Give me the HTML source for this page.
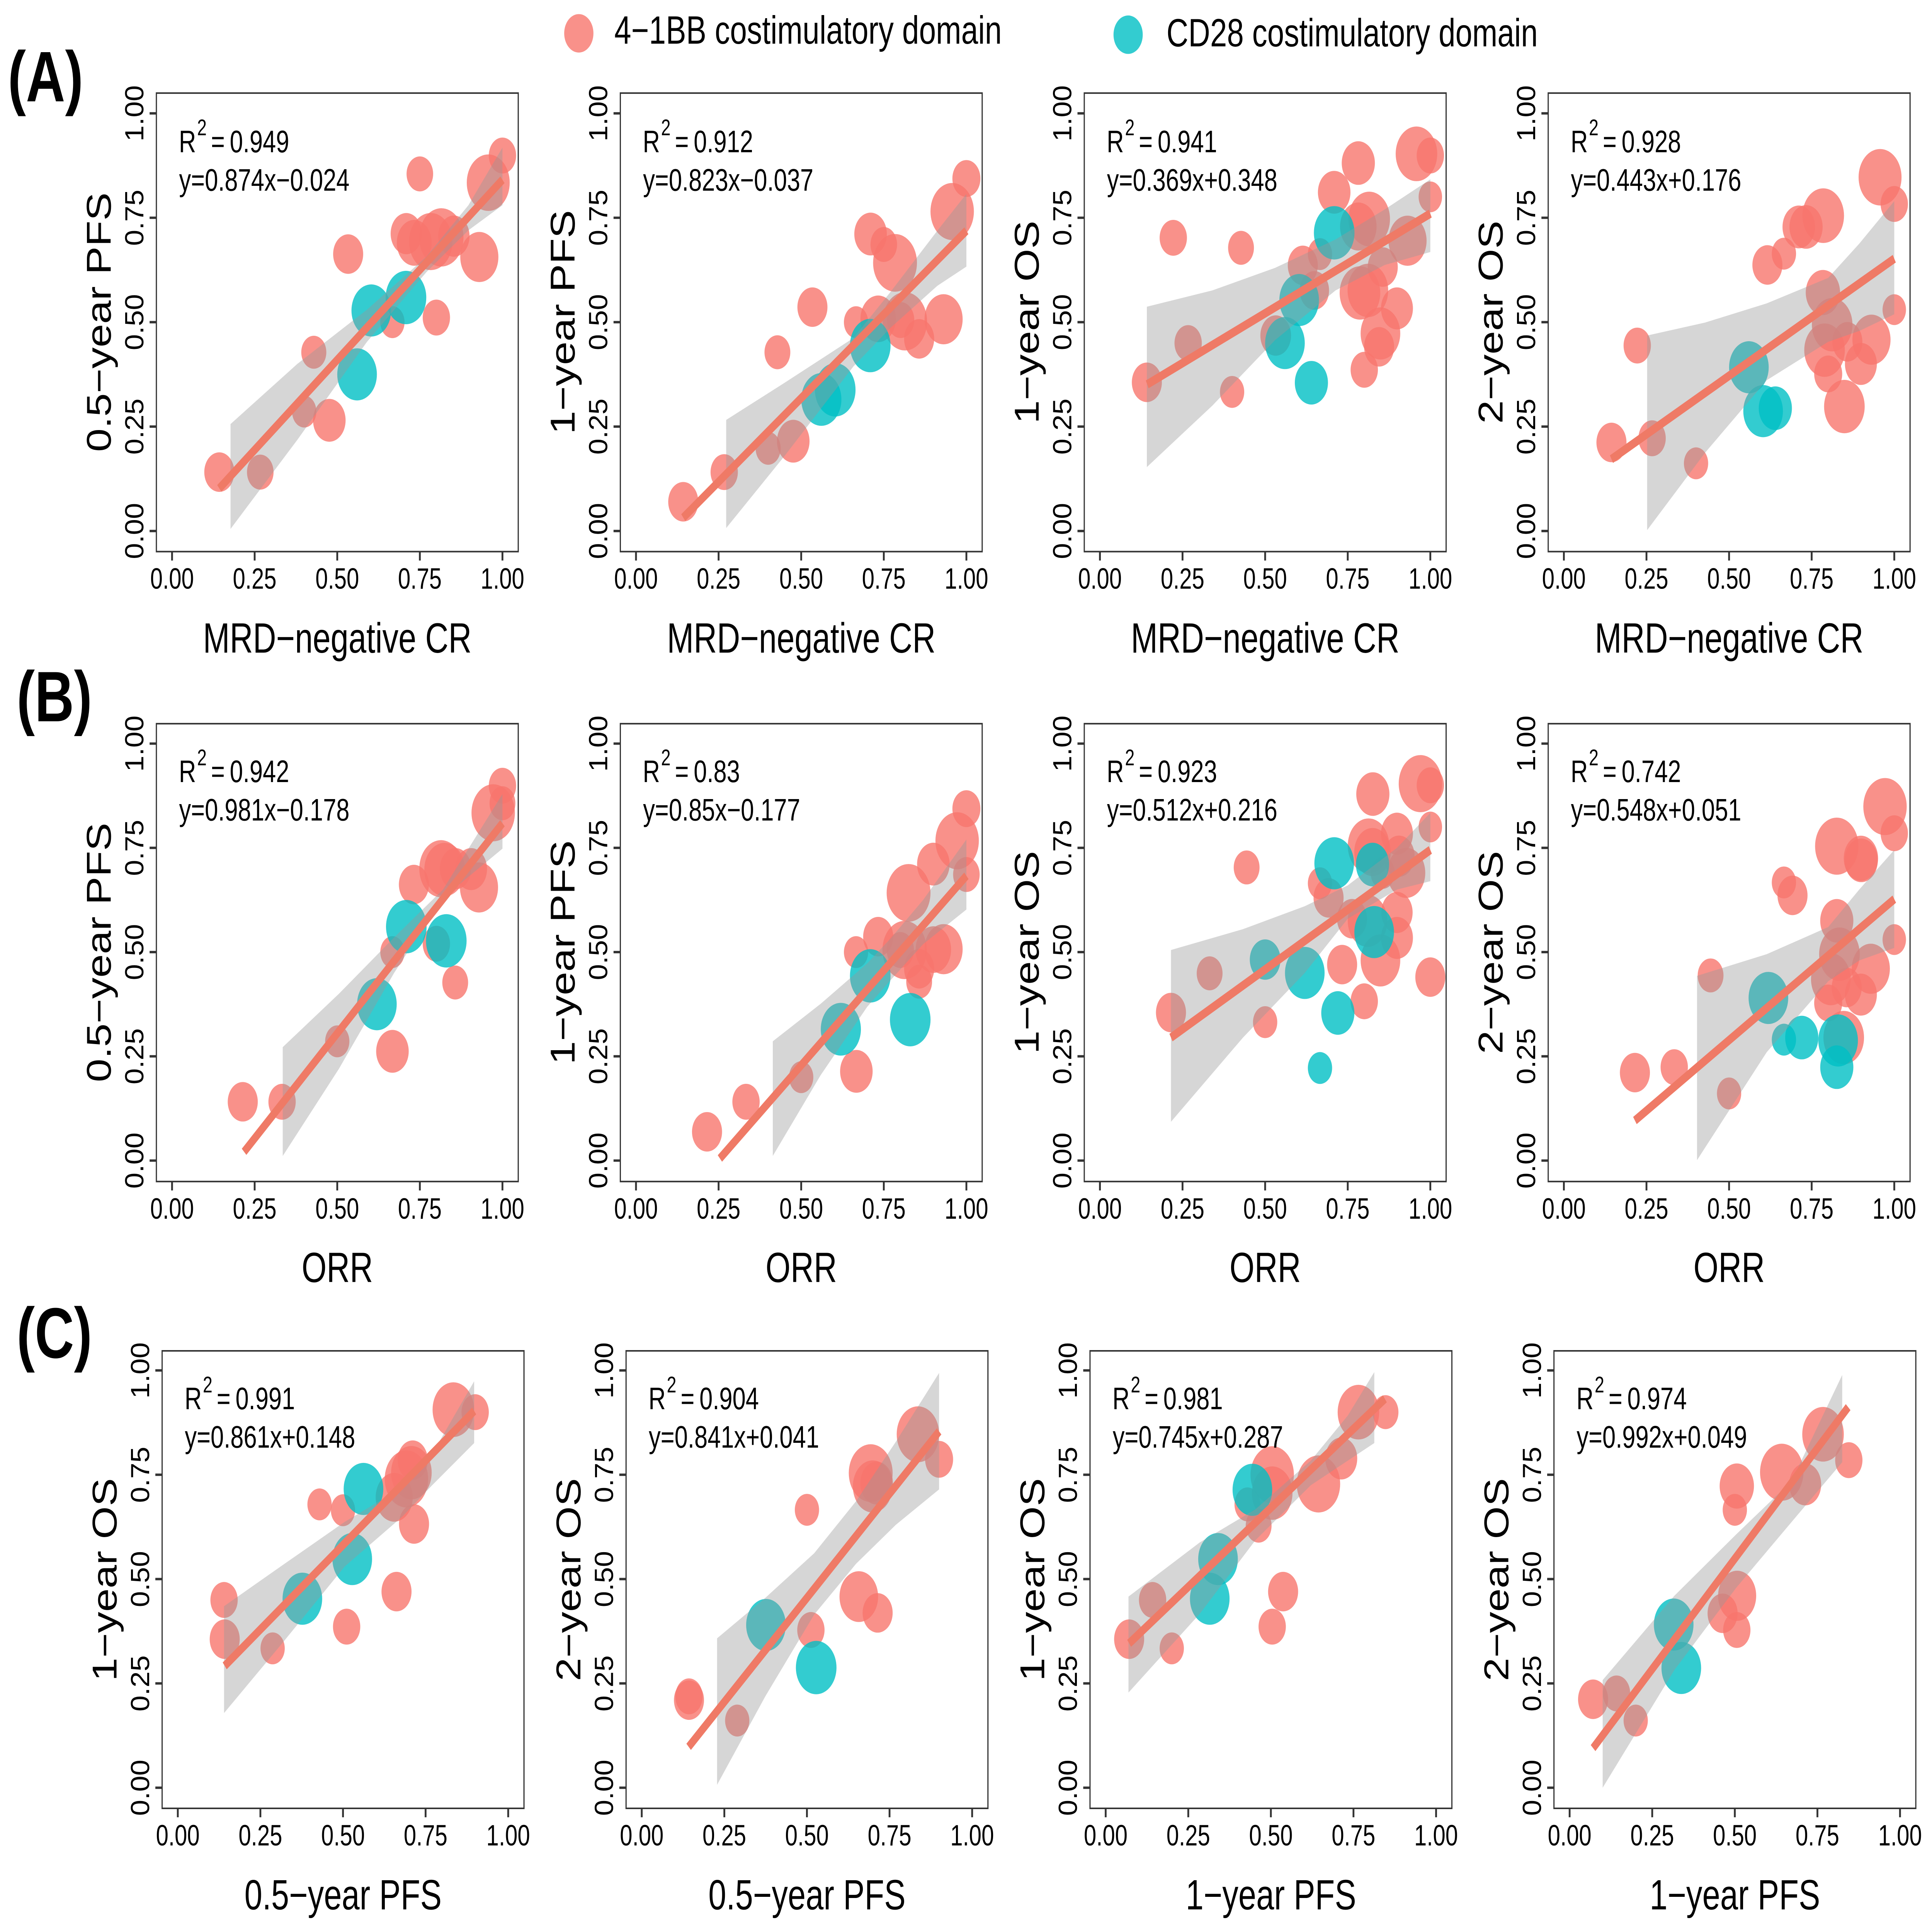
<!DOCTYPE html>
<html lang="en">
<head>
<meta charset="utf-8">
<title>Correlation of response and survival endpoints by costimulatory domain</title>
<style>
html,body{margin:0;padding:0;background:#fff;width:100%;height:100%;overflow:hidden;}
svg{display:block;width:100vw;height:100vh;font-family:"Liberation Sans",Arial,sans-serif;}
.frame{fill:none;stroke:#333;stroke-width:4.5;}
.axt{font-size:123px;fill:#000;text-anchor:middle;}
.ann{font-size:91px;fill:#000;}
.sup{font-size:66px;fill:#000;}
.tag{font-size:208px;font-weight:bold;fill:#000;}
.leg{font-size:115px;fill:#000;}
</style>
</head>
<body>
<svg id="figure" xmlns="http://www.w3.org/2000/svg" viewBox="0 0 7400 5625" preserveAspectRatio="none">
<rect width="7400" height="5625" fill="#fff"/>
<g>
<circle cx="2217" cy="97" r="56" fill="#F8766D" fill-opacity="0.8"/>
<text class="leg" x="2353" y="127" textLength="1484" lengthAdjust="spacingAndGlyphs">4−1BB costimulatory domain</text>
<circle cx="4321" cy="101" r="56" fill="#00BFC4" fill-opacity="0.8"/>
<text class="leg" x="4468" y="135" textLength="1422" lengthAdjust="spacingAndGlyphs">CD28 costimulatory domain</text>
</g>
<text class="tag" x="30" y="295">(A)</text>
<text class="tag" x="64" y="2100">(B)</text>
<text class="tag" x="64" y="3953">(C)</text>

<g id="a1" transform="translate(599,271)">
<rect class="frame" width="1386" height="1335"/><g class="marks"></g>
<text class="ann" y="172"><tspan x="86">R</tspan><tspan class="sup" x="156" y="123">2</tspan><tspan x="209" y="172">=</tspan><tspan x="281">0.949</tspan></text>
<text class="ann" x="87" y="284">y=0.874x−0.024</text>
<text class="axt" x="693" y="1629">MRD−negative CR</text>
<text class="axt" transform="translate(-175,667) rotate(-90) scale(1,1.07)">0.5−year PFS</text>
</g>
<g id="a2" transform="translate(2376,271)">
<rect class="frame" width="1386" height="1335"/><g class="marks"></g>
<text class="ann" y="172"><tspan x="86">R</tspan><tspan class="sup" x="156" y="123">2</tspan><tspan x="209" y="172">=</tspan><tspan x="281">0.912</tspan></text>
<text class="ann" x="87" y="284">y=0.823x−0.037</text>
<text class="axt" x="693" y="1629">MRD−negative CR</text>
<text class="axt" transform="translate(-175,667) rotate(-90) scale(1,1.07)">1−year PFS</text>
</g>
<g id="a3" transform="translate(4153,271)">
<rect class="frame" width="1386" height="1335"/><g class="marks"></g>
<text class="ann" y="172"><tspan x="86">R</tspan><tspan class="sup" x="156" y="123">2</tspan><tspan x="209" y="172">=</tspan><tspan x="281">0.941</tspan></text>
<text class="ann" x="87" y="284">y=0.369x+0.348</text>
<text class="axt" x="693" y="1629">MRD−negative CR</text>
<text class="axt" transform="translate(-175,667) rotate(-90) scale(1,1.07)">1−year OS</text>
</g>
<g id="a4" transform="translate(5930,271)">
<rect class="frame" width="1386" height="1335"/><g class="marks"></g>
<text class="ann" y="172"><tspan x="86">R</tspan><tspan class="sup" x="156" y="123">2</tspan><tspan x="209" y="172">=</tspan><tspan x="281">0.928</tspan></text>
<text class="ann" x="87" y="284">y=0.443x+0.176</text>
<text class="axt" x="693" y="1629">MRD−negative CR</text>
<text class="axt" transform="translate(-175,667) rotate(-90) scale(1,1.07)">2−year OS</text>
</g>

<g id="b1" transform="translate(599,2107)">
<rect class="frame" width="1386" height="1333"/><g class="marks"></g>
<text class="ann" y="170"><tspan x="86">R</tspan><tspan class="sup" x="156" y="121">2</tspan><tspan x="209" y="170">=</tspan><tspan x="281">0.942</tspan></text>
<text class="ann" x="87" y="282">y=0.981x−0.178</text>
<text class="axt" x="693" y="1626">ORR</text>
<text class="axt" transform="translate(-175,666) rotate(-90) scale(1,1.07)">0.5−year PFS</text>
</g>
<g id="b2" transform="translate(2376,2107)">
<rect class="frame" width="1386" height="1333"/><g class="marks"></g>
<text class="ann" y="170"><tspan x="86">R</tspan><tspan class="sup" x="156" y="121">2</tspan><tspan x="209" y="170">=</tspan><tspan x="281">0.83</tspan></text>
<text class="ann" x="87" y="282">y=0.85x−0.177</text>
<text class="axt" x="693" y="1626">ORR</text>
<text class="axt" transform="translate(-175,666) rotate(-90) scale(1,1.07)">1−year PFS</text>
</g>
<g id="b3" transform="translate(4153,2107)">
<rect class="frame" width="1386" height="1333"/><g class="marks"></g>
<text class="ann" y="170"><tspan x="86">R</tspan><tspan class="sup" x="156" y="121">2</tspan><tspan x="209" y="170">=</tspan><tspan x="281">0.923</tspan></text>
<text class="ann" x="87" y="282">y=0.512x+0.216</text>
<text class="axt" x="693" y="1626">ORR</text>
<text class="axt" transform="translate(-175,666) rotate(-90) scale(1,1.07)">1−year OS</text>
</g>
<g id="b4" transform="translate(5930,2107)">
<rect class="frame" width="1386" height="1333"/><g class="marks"></g>
<text class="ann" y="170"><tspan x="86">R</tspan><tspan class="sup" x="156" y="121">2</tspan><tspan x="209" y="170">=</tspan><tspan x="281">0.742</tspan></text>
<text class="ann" x="87" y="282">y=0.548x+0.051</text>
<text class="axt" x="693" y="1626">ORR</text>
<text class="axt" transform="translate(-175,666) rotate(-90) scale(1,1.07)">2−year OS</text>
</g>

<g id="c1" transform="translate(621,3933)">
<rect class="frame" width="1386" height="1332"/><g class="marks"></g>
<text class="ann" y="170"><tspan x="86">R</tspan><tspan class="sup" x="156" y="121">2</tspan><tspan x="209" y="170">=</tspan><tspan x="281">0.991</tspan></text>
<text class="ann" x="87" y="282">y=0.861x+0.148</text>
<text class="axt" x="693" y="1626">0.5−year PFS</text>
<text class="axt" transform="translate(-175,666) rotate(-90) scale(1,1.07)">1−year OS</text>
</g>
<g id="c2" transform="translate(2398,3933)">
<rect class="frame" width="1386" height="1332"/><g class="marks"></g>
<text class="ann" y="170"><tspan x="86">R</tspan><tspan class="sup" x="156" y="121">2</tspan><tspan x="209" y="170">=</tspan><tspan x="281">0.904</tspan></text>
<text class="ann" x="87" y="282">y=0.841x+0.041</text>
<text class="axt" x="693" y="1626">0.5−year PFS</text>
<text class="axt" transform="translate(-175,666) rotate(-90) scale(1,1.07)">2−year OS</text>
</g>
<g id="c3" transform="translate(4175,3933)">
<rect class="frame" width="1386" height="1332"/><g class="marks"></g>
<text class="ann" y="170"><tspan x="86">R</tspan><tspan class="sup" x="156" y="121">2</tspan><tspan x="209" y="170">=</tspan><tspan x="281">0.981</tspan></text>
<text class="ann" x="87" y="282">y=0.745x+0.287</text>
<text class="axt" x="693" y="1626">1−year PFS</text>
<text class="axt" transform="translate(-175,666) rotate(-90) scale(1,1.07)">1−year OS</text>
</g>
<g id="c4" transform="translate(5952,3933)">
<rect class="frame" width="1386" height="1332"/><g class="marks"></g>
<text class="ann" y="170"><tspan x="86">R</tspan><tspan class="sup" x="156" y="121">2</tspan><tspan x="209" y="170">=</tspan><tspan x="281">0.974</tspan></text>
<text class="ann" x="87" y="282">y=0.992x+0.049</text>
<text class="axt" x="693" y="1626">1−year PFS</text>
<text class="axt" transform="translate(-175,666) rotate(-90) scale(1,1.07)">2−year OS</text>
</g>
</svg>
<script>
// Shared tick values
const tickValues = [0, 0.25, 0.5, 0.75, 1];
const tickLabels = ['0.00', '0.25', '0.50', '0.75', '1.00'];

// Panel a1: 0.5-year PFS vs MRD-negative CR
const a1RedX = [.143,.267,.40,.476,.429,.533,.667,.709,.733,.75,.783,.815,.80,.853,.93,.957,1];
const a1RedY = [.141,.141,.286,.265,.428,.663,.50,.712,.69,.855,.693,.703,.511,.706,.656,.834,.899];
const a1RedN = [23,18,15,27,16,23,15,25,31,18,48,50,19,25,37,47,19];
const a1CdX = [.603,.708,.56];
const a1CdY = [.528,.559,.375];
const a1CdN = [40,42,40];
const a1LineX = [.143,1];
const a1LineY = [.102,.841];
const a1BandX = [.177,.379,.59,.77,.897,1];
const a1BandLo = [.005,.218,.453,.62,.72,.78];
const a1BandHi = [.256,.40,.53,.657,.78,.918];

// Panel a2: 1-year PFS vs MRD-negative CR
const a2RedX = [.143,.267,.40,.428,.476,.534,.666,.71,.733,.75,.784,.801,.814,.857,.931,.957,1];
const a2RedY = [.07,.141,.198,.428,.215,.536,.50,.711,.508,.686,.642,.505,.502,.46,.507,.765,.844];
const a2RedN = [23,19,16,17,27,23,15,27,32,18,49,19,50,23,37,48,20];
const a2CdX = [.561,.603,.709];
const a2CdY = [.315,.338,.444];
const a2CdN = [41,42,42];
const a2LineX = [.143,1];
const a2LineY = [.032,.719];
const a2BandX = [.273,.45,.658,.771,.912,1];
const a2BandLo = [.007,.18,.394,.487,.587,.633];
const a2BandHi = [.266,.355,.462,.573,.719,.807];

// Panel a3: 1-year OS vs MRD-negative CR
const a3RedX = [.142,.222,.267,.40,.427,.532,.614,.649,.666,.709,.782,.782,.815,.787,.811,.80,.856,.849,.845,.899,.931,.958,1,1];
const a3RedY = [.356,.702,.45,.333,.678,.468,.636,.576,.663,.811,.881,.729,.747,.57,.576,.386,.632,.473,.441,.533,.695,.903,.899,.80];
const a3RedN = [23,19,19,15,17,24,23,22,15,27,28,34,44,42,42,19,23,40,23,26,37,44,19,14];
const a3CdX = [.709,.603,.56,.64];
const a3CdY = [.714,.553,.45,.355];
const a3CdN = [42,40,40,28];
const a3LineX = [.143,1];
const a3LineY = [.351,.76];
const a3BandX = [.142,.34,.53,.713,.862,1];
const a3BandLo = [.153,.30,.457,.576,.637,.668];
const a3BandHi = [.537,.576,.63,.698,.77,.842];

// Panel a4: 2-year OS vs MRD-negative CR
const a4RedX = [.144,.222,.267,.40,.616,.666,.711,.733,.785,.784,.812,.789,.80,.858,.849,.899,.931,.957,1,1];
const a4RedY = [.212,.444,.222,.162,.637,.664,.728,.728,.755,.571,.494,.433,.376,.453,.298,.40,.458,.847,.783,.53];
const a4RedN = [23,19,19,15,23,15,27,28,44,30,42,42,20,23,42,26,37,47,19,14];
const a4CdX = [.56,.603,.64];
const a4CdY = [.392,.287,.294];
const a4CdN = [40,40,28];
const a4LineX = [.144,1];
const a4LineY = [.172,.652];
const a4BandX = [.252,.427,.614,.80,.894,1];
const a4BandLo = [.002,.187,.361,.453,.479,.519];
const a4BandHi = [.468,.499,.545,.606,.688,.79];

// Panel b1: 0.5-year PFS vs ORR
const b1RedX = [.214,.333,.50,.667,.667,.732,.814,.825,.858,.905,.80,.857,.929,.972,1,1];
const b1RedY = [.141,.141,.286,.262,.50,.662,.70,.698,.70,.699,.52,.427,.655,.834,.899,.857];
const b1RedN = [23,19,15,27,15,23,48,42,25,26,19,17,37,48,19,17];
const b1CdX = [.709,.83,.62];
const b1CdY = [.561,.527,.375];
const b1CdN = [42,42,40];
const b1LineX = [.218,1];
const b1LineY = [.021,.809];
const b1BandX = [.335,.505,.672,.82,1];
const b1BandLo = [.011,.22,.45,.63,.748];
const b1BandHi = [.272,.40,.535,.65,.879];

// Panel b2: 1-year PFS vs ORR
const b2RedX = [.215,.333,.50,.667,.666,.733,.813,.80,.857,.857,.825,.90,.90,.931,.972,1,1];
const b2RedY = [.069,.141,.20,.214,.50,.537,.505,.505,.46,.429,.642,.711,.506,.507,.767,.844,.686];
const b2RedN = [23,19,15,27,15,23,50,19,23,17,49,27,32,37,48,20,18];
const b2CdX = [.709,.83,.62];
const b2CdY = [.443,.338,.315];
const b2CdN = [42,42,41];
const b2LineX = [.254,1];
const b2LineY = [.005,.683];
const b2BandX = [.414,.559,.70,.771,.869,1];
const b2BandLo = [.011,.205,.369,.433,.519,.602];
const b2BandHi = [.286,.376,.473,.533,.625,.77];

// Panel b3: 1-year OS vs ORR
const b3RedX = [.215,.332,.444,.50,.666,.692,.733,.763,.80,.813,.826,.825,.81,.856,.849,.899,.899,.899,.927,.97,1,1,1,.905];
const b3RedY = [.355,.449,.703,.332,.665,.63,.47,.58,.382,.755,.879,.74,.575,.69,.48,.784,.595,.534,.69,.904,.90,.80,.44,.73];
const b3RedN = [23,17,17,15,15,23,23,23,19,44,28,34,40,15,40,26,25,26,37,48,19,14,23,25];
const b3CdX = [.709,.825,.50,.62,.72,.83,.666];
const b3CdY = [.713,.71,.482,.45,.354,.548,.222];
const b3CdN = [40,28,24,40,28,40,15];
const b3LineX = [.215,1];
const b3LineY = [.295,.745];
const b3BandX = [.215,.433,.62,.75,.899,1];
const b3BandLo = [.093,.295,.45,.58,.65,.67];
const b3BandHi = [.505,.555,.61,.66,.75,.834];

// Panel b4: 2-year OS vs ORR
const b4RedX = [.215,.334,.444,.50,.666,.692,.826,.826,.899,.90,.808,.834,.80,.856,.847,.899,.929,.972,1,1];
const b4RedY = [.211,.224,.444,.161,.667,.636,.575,.754,.725,.72,.435,.495,.378,.415,.295,.398,.46,.849,.785,.53];
const b4RedN = [23,19,17,15,15,23,28,48,30,28,40,42,20,23,42,26,37,48,19,14];
const b4CdX = [.619,.666,.72,.83,.826];
const b4CdY = [.39,.29,.295,.288,.224];
const b4CdN = [40,15,28,40,28];
const b4LineX = [.215,1];
const b4LineY = [.096,.627];
const b4BandX = [.403,.614,.80,.894,1];
const b4BandLo = [.001,.26,.43,.48,.51];
const b4BandHi = [.443,.495,.56,.65,.745];

// Panel c1: 1-year OS vs 0.5-year PFS
const c1RedX = [.14,.142,.287,.429,.50,.511,.662,.655,.692,.707,.711,.715,.834,.90];
const c1RedY = [.45,.356,.334,.679,.665,.386,.47,.696,.74,.755,.785,.632,.906,.90];
const c1RedN = [19,23,15,15,15,19,23,35,48,42,23,23,44,19];
const c1CdX = [.562,.528,.377];
const c1CdY = [.716,.548,.453];
const c1CdN = [40,40,40];
const c1LineX = [.142,.897];
const c1LineY = [.292,.903];
const c1BandX = [.14,.32,.505,.68,.77,.897];
const c1BandLo = [.179,.35,.53,.65,.725,.826];
const c1BandHi = [.435,.535,.637,.72,.80,.974];

// Panel c2: 2-year OS vs 0.5-year PFS
const c2RedX = [.143,.143,.289,.50,.512,.657,.714,.693,.699,.711,.836,.90];
const c2RedY = [.219,.21,.161,.666,.378,.458,.419,.754,.722,.73,.847,.787];
const c2RedN = [19,23,15,15,19,38,23,49,40,27,46,20];
const c2CdX = [.376,.528];
const c2CdY = [.39,.288];
const c2CdN = [40,42];
const c2LineX = [.142,.90];
const c2LineY = [.098,.854];
const c2BandX = [.228,.374,.522,.649,.769,.90];
const c2BandLo = [.007,.219,.415,.537,.63,.715];
const c2BandHi = [.358,.455,.562,.687,.829,.994];

// Panel c3: 1-year OS vs 1-year PFS
const c3RedX = [.071,.142,.20,.429,.463,.504,.504,.537,.504,.644,.713,.765,.847];
const c3RedY = [.356,.45,.334,.679,.628,.75,.706,.47,.386,.728,.789,.90,.90];
const c3RedN = [23,19,15,17,17,48,42,23,19,48,26,44,17];
const c3CdX = [.444,.34,.315];
const c3CdY = [.714,.548,.453];
const c3CdN = [40,40,40];
const c3LineX = [.071,.845];
const c3LineY = [.346,.932];
const c3BandX = [.069,.285,.453,.621,.733,.813];
const c3BandLo = [.228,.417,.593,.725,.784,.826];
const c3BandHi = [.458,.588,.667,.784,.892,.996];

// Panel c4: 2-year OS vs 1-year PFS
const c4RedX = [.071,.142,.20,.50,.506,.463,.507,.506,.642,.713,.767,.845];
const c4RedY = [.212,.226,.161,.666,.723,.418,.46,.378,.756,.727,.847,.785];
const c4RedN = [23,19,15,15,30,23,37,19,48,26,44,19];
const c4CdX = [.315,.338];
const c4CdY = [.391,.287];
const c4CdN = [40,40];
const c4LineX = [.071,.843];
const c4LineY = [.095,.912];
const c4BandX = [.10,.317,.504,.672,.825];
const c4BandLo = [0,.282,.479,.637,.78];
const c4BandHi = [.258,.46,.607,.735,.989];

const panels = [
  ['a1',a1RedX,a1RedY,a1RedN,a1CdX,a1CdY,a1CdN,a1LineX,a1LineY,a1BandX,a1BandLo,a1BandHi],
  ['a2',a2RedX,a2RedY,a2RedN,a2CdX,a2CdY,a2CdN,a2LineX,a2LineY,a2BandX,a2BandLo,a2BandHi],
  ['a3',a3RedX,a3RedY,a3RedN,a3CdX,a3CdY,a3CdN,a3LineX,a3LineY,a3BandX,a3BandLo,a3BandHi],
  ['a4',a4RedX,a4RedY,a4RedN,a4CdX,a4CdY,a4CdN,a4LineX,a4LineY,a4BandX,a4BandLo,a4BandHi],
  ['b1',b1RedX,b1RedY,b1RedN,b1CdX,b1CdY,b1CdN,b1LineX,b1LineY,b1BandX,b1BandLo,b1BandHi],
  ['b2',b2RedX,b2RedY,b2RedN,b2CdX,b2CdY,b2CdN,b2LineX,b2LineY,b2BandX,b2BandLo,b2BandHi],
  ['b3',b3RedX,b3RedY,b3RedN,b3CdX,b3CdY,b3CdN,b3LineX,b3LineY,b3BandX,b3BandLo,b3BandHi],
  ['b4',b4RedX,b4RedY,b4RedN,b4CdX,b4CdY,b4CdN,b4LineX,b4LineY,b4BandX,b4BandLo,b4BandHi],
  ['c1',c1RedX,c1RedY,c1RedN,c1CdX,c1CdY,c1CdN,c1LineX,c1LineY,c1BandX,c1BandLo,c1BandHi],
  ['c2',c2RedX,c2RedY,c2RedN,c2CdX,c2CdY,c2CdN,c2LineX,c2LineY,c2BandX,c2BandLo,c2BandHi],
  ['c3',c3RedX,c3RedY,c3RedN,c3CdX,c3CdY,c3CdN,c3LineX,c3LineY,c3BandX,c3BandLo,c3BandHi],
  ['c4',c4RedX,c4RedY,c4RedN,c4CdX,c4CdY,c4CdN,c4LineX,c4LineY,c4BandX,c4BandLo,c4BandHi]
];

const SVGNS = 'http://www.w3.org/2000/svg';
const rowLayout = {
  a: {top: 59, zero: 1275, h: 1335},
  b: {top: 58, zero: 1272, h: 1333},
  c: {top: 57, zero: 1272, h: 1332}
};
function scaleX(v) { return 60 + 1265.5 * v; }
function scaleR(n) { return 12 * Math.sqrt(n); }
function make(tag, attrs) {
  const el = document.createElementNS(SVGNS, tag);
  for (const k in attrs) el.setAttribute(k, attrs[k]);
  return el;
}

panels.forEach(function (p) {
  const id = p[0];
  const row = rowLayout[id[0]];
  const scaleY = function (v) { return row.zero + (row.top - row.zero) * v; };
  const g = document.querySelector('#' + id + ' .marks');

  function dots(xs, ys, ns, fill, name) {
    xs.forEach(function (x, i) {
      const c = make('circle', {cx: scaleX(x), cy: scaleY(ys[i]), r: scaleR(ns[i]), fill: fill, 'fill-opacity': 0.8});
      
      
      g.appendChild(c);
    });
  }
  dots(p[1], p[2], p[3], '#F8766D', 'point-4-1bb');
  dots(p[4], p[5], p[6], '#00BFC4', 'point-cd28');

  const bx = p[9], lo = p[10], hi = p[11];
  let d = '';
  bx.forEach(function (x, i) { d += (i ? 'L' : 'M') + scaleX(x) + ' ' + scaleY(hi[i]); });
  for (let i = bx.length - 1; i >= 0; i--) { d += 'L' + scaleX(bx[i]) + ' ' + scaleY(lo[i]); }
  const band = make('path', {d: d + 'Z', fill: '#999999', 'fill-opacity': 0.4});
  
  
  g.appendChild(band);

  const line = make('line', {x1: scaleX(p[7][0]), y1: scaleY(p[8][0]), x2: scaleX(p[7][1]), y2: scaleY(p[8][1]), stroke: '#EF7A66', 'stroke-width': 25});
  
  
  g.appendChild(line);

  tickValues.forEach(function (t, i) {
    const px = scaleX(t), py = scaleY(t);
    const xt = make('line', {x1: px, x2: px, y1: row.h, y2: row.h + 26, stroke: '#333', 'stroke-width': 7});
    
    
    g.appendChild(xt);
    const yt = make('line', {x1: -26, x2: 0, y1: py, y2: py, stroke: '#333', 'stroke-width': 7});
    
    
    g.appendChild(yt);
    const xl = make('text', {x: px, y: row.h + 108, 'font-size': 86, 'text-anchor': 'middle', fill: '#000'});
    
    
    xl.textContent = tickLabels[i];
    g.appendChild(xl);
    const yl = make('text', {transform: 'translate(-50,' + py + ') rotate(-90) scale(1,1.2)', 'font-size': 84, 'text-anchor': 'middle', fill: '#000'});
    
    
    yl.textContent = tickLabels[i];
    g.appendChild(yl);
  });
});
</script>
</body>
</html>
